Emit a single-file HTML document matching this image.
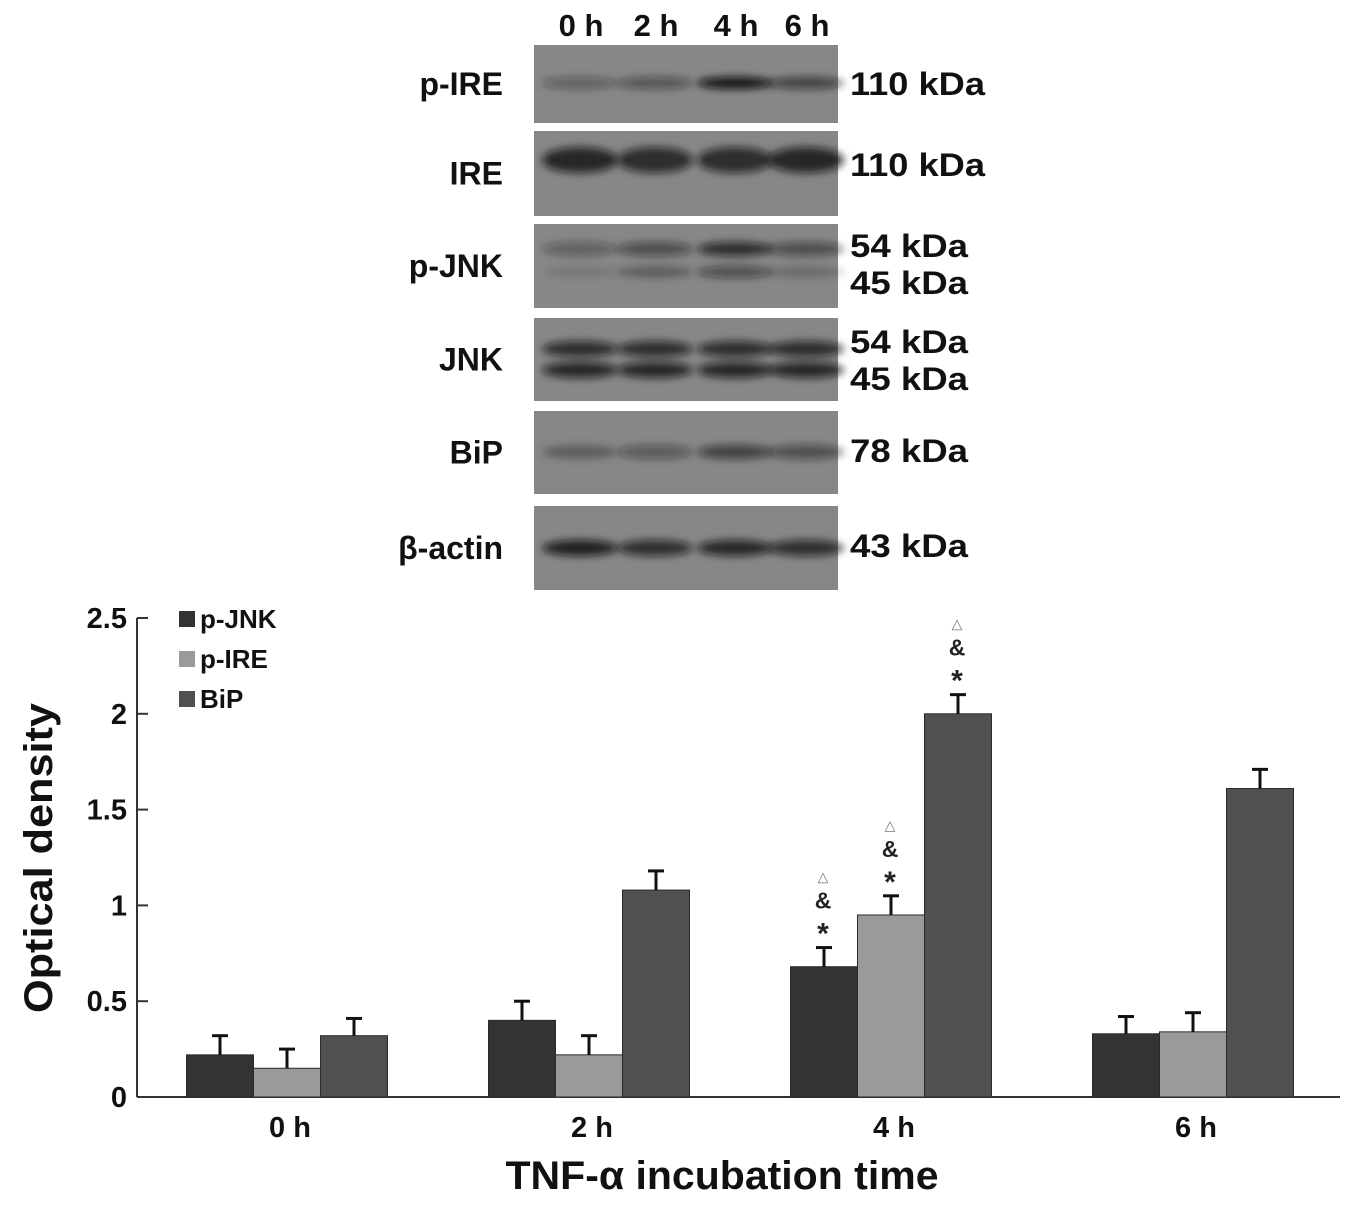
<!DOCTYPE html>
<html><head><meta charset="utf-8"><style>
html,body{margin:0;padding:0;background:#fff;}
svg{display:block;font-family:"Liberation Sans",Arial,sans-serif;}
</style></head><body>
<svg id="fig" width="1359" height="1207" viewBox="0 0 1359 1207">
<defs>
<filter id="blur" x="-20%" y="-100%" width="140%" height="300%"><feGaussianBlur stdDeviation="4"/></filter>
</defs>
<g id="blot"></g>
<g id="chart"></g>
</svg>
<script>
// ---- chart data ----
const categories = ["0 h","2 h","4 h","6 h"];
const seriesNames = ["p-JNK","p-IRE","BiP"];
const pJNK = [0.22,0.40,0.68,0.33];
const pIRE = [0.15,0.22,0.95,0.34];
const BiP  = [0.32,1.08,2.00,1.61];
const errJNK = [0.10,0.10,0.10,0.09];
const errIRE = [0.10,0.10,0.10,0.10];
const errBiP = [0.09,0.10,0.10,0.10];
const yTicks = [0,0.5,1,1.5,2,2.5];
const yTickLabels = ["0","0.5","1","1.5","2","2.5"];
const sigFlags = [false,false,true,false];

const NS="http://www.w3.org/2000/svg";
function mk(tag,attrs,parent,text){const e=document.createElementNS(NS,tag);for(const k in attrs)e.setAttribute(k,attrs[k]);if(text!==undefined)e.textContent=text;parent.appendChild(e);return e;}

// ---- blot ----
const blot=document.getElementById('blot');
const lanes=[580,655,735,806];
const panels=[
 {name:"p-IRE",y:45,h:78,kda:["110 kDa"],ky:[84],bands:[[83,[0.35,0.45,0.95,0.6],6]]},
 {name:"IRE",y:131,h:85,kda:["110 kDa"],ky:[165],bands:[[160,[0.8,0.75,0.75,0.8],13]]},
 {name:"p-JNK",y:224,h:84,kda:["54 kDa","45 kDa"],ky:[246,283],bands:[[249,[0.35,0.5,0.75,0.5],7],[272,[0.1,0.3,0.5,0.2],6]]},
 {name:"JNK",y:318,h:83,kda:["54 kDa","45 kDa"],ky:[342,379],bands:[[349,[0.75,0.75,0.75,0.75],8],[370,[0.8,0.8,0.8,0.8],8]]},
 {name:"BiP",y:411,h:83,kda:["78 kDa"],ky:[451],bands:[[452,[0.3,0.4,0.6,0.5],7]]},
 {name:"β-actin",y:506,h:84,kda:["43 kDa"],ky:[546],bands:[[548,[0.85,0.75,0.8,0.75],8]]}
];
["0 h","2 h","4 h","6 h"].forEach((t,i)=>{const e=mk('text',{x:lanes[i]+1,y:36,'text-anchor':'middle','font-size':31,'font-weight':'bold',fill:'#111'},blot,t);});
panels.forEach(p=>{
 const r=mk('rect',{x:534,y:p.y,width:304,height:p.h,fill:'#878787'},blot);
 
 p.bands.forEach(b=>{b[1].forEach((a,i)=>{mk('ellipse',{cx:lanes[i],cy:b[0],rx:38,ry:b[2],fill:'#111','fill-opacity':a,filter:'url(#blur)'},blot);});});
 const l=mk('text',{x:503,y:p.y+p.h/2+11,'text-anchor':'end','font-size':32,'font-weight':'bold',fill:'#111'},blot,p.name);
 
 p.kda.forEach((k,i)=>{const e=mk('text',{x:850,y:p.ky[i]+11,'font-size':32,'font-weight':'bold',fill:'#111',textLength:k.length>6?135:118,lengthAdjust:'spacingAndGlyphs'},blot,k);});
});

// ---- chart ----
const ch=document.getElementById('chart');
const X0=137,Y0=1097,PX=191.6;
const y=v=>Y0-v*PX;
const gx=i=>287+i*302;
const bw=67;
mk('line',{x1:X0,y1:y(2.5),x2:X0,y2:Y0,stroke:'#333','stroke-width':2},ch);
mk('line',{x1:X0,y1:Y0,x2:1340,y2:Y0,stroke:'#333','stroke-width':2},ch);
yTicks.forEach((t,i)=>{
 mk('line',{x1:X0,y1:y(t),x2:X0+11,y2:y(t),stroke:'#333','stroke-width':2},ch);
 const e=mk('text',{x:X0-10,y:y(t)+10,'text-anchor':'end','font-size':29,'font-weight':'bold',fill:'#111'},ch,yTickLabels[i]);
 
});
const series=[pJNK,pIRE,BiP],errs=[errJNK,errIRE,errBiP],cols=['#333333','#9a9a9a','#505050'];
categories.forEach((c,i)=>{
 series.forEach((s,j)=>{
  const x=gx(i)-1.5*bw+j*bw;
  const r=mk('rect',{x:x,y:y(s[i]),width:bw,height:Y0-y(s[i]),fill:cols[j],stroke:'#2a2a2a','stroke-width':1},ch);
  
  const cx=x+bw/2,top=y(s[i]+errs[j][i]);
  mk('line',{x1:cx,y1:y(s[i]),x2:cx,y2:top,stroke:'#111','stroke-width':3},ch);
  mk('line',{x1:cx-8,y1:top,x2:cx+8,y2:top,stroke:'#111','stroke-width':3},ch);
  if(sigFlags[i]){
   const t=y(s[i]+errs[j][i]);
   const a=mk('text',{x:cx-1,y:t-4,'text-anchor':'middle','font-size':30,'font-weight':'bold',fill:'#222'},ch,'*');
   
   const b=mk('text',{x:cx-1,y:t-39,'text-anchor':'middle','font-size':23,'font-weight':'bold',fill:'#222'},ch,'&');
   
   const d=mk('text',{x:cx-1,y:t-66,'text-anchor':'middle','font-size':14,fill:'#777'},ch,'△');
   
  }
 });
 const e=mk('text',{x:gx(i)+3,y:1137,'text-anchor':'middle','font-size':29,'font-weight':'bold',fill:'#111'},ch,c);
 
});
const yt=mk('text',{x:52,y:858,'text-anchor':'middle','font-size':40,'font-weight':'bold',fill:'#111',transform:'rotate(-90 52 858)',textLength:310,lengthAdjust:'spacingAndGlyphs'},ch,'Optical density');

const xt=mk('text',{x:722,y:1189,'text-anchor':'middle','font-size':40,'font-weight':'bold',fill:'#111',textLength:433,lengthAdjust:'spacingAndGlyphs'},ch,'TNF-α incubation time');

seriesNames.forEach((n,j)=>{
 const g=mk('g',{},ch);
 
 const ly=611+j*40;
 mk('rect',{x:179,y:ly,width:16,height:16,fill:cols[j]},g);
 mk('text',{x:200,y:ly+17,'font-size':26,'font-weight':'bold',fill:'#111'},g,n);
});
</script>
</body></html>
